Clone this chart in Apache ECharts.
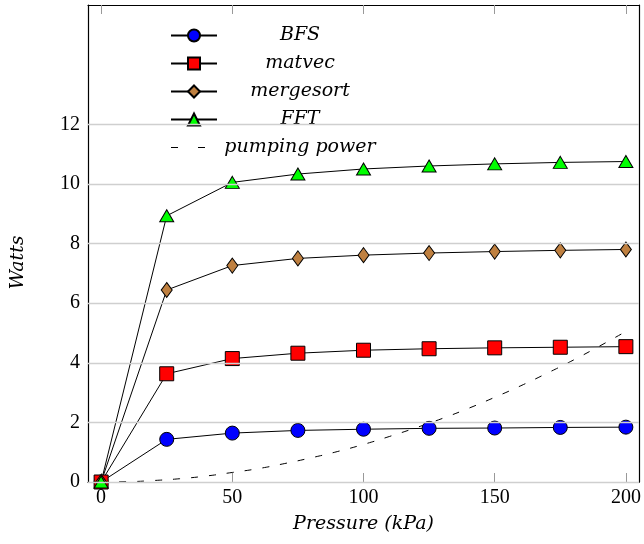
<!DOCTYPE html>
<html>
<head>
<meta charset="utf-8">
<script src="https://cdn.jsdelivr.net/npm/echarts@6/dist/echarts.min.js"></script>
<style>html,body{margin:0;padding:0;background:#fff}#c{width:644px;height:544px}</style>
</head>
<body>
<div id="c"></div>
<script>
const pressures = [0, 25, 50, 75, 100, 125, 150, 175, 200];
const bfs = [0, 1.43, 1.64, 1.73, 1.77, 1.80, 1.81, 1.83, 1.84];
const matvec = [0, 3.63, 4.14, 4.32, 4.42, 4.47, 4.50, 4.52, 4.54];
const mergesort = [0, 6.44, 7.26, 7.50, 7.61, 7.68, 7.73, 7.77, 7.80];
const fft = [0, 8.93, 10.05, 10.33, 10.50, 10.60, 10.67, 10.72, 10.75];
const pumpX = [0, 10, 20, 30, 40, 50, 60, 70, 80, 90, 100, 110, 120, 130, 140, 150, 160, 170, 180, 190, 200];
const pumpY = [0, 0.01, 0.05, 0.11, 0.20, 0.32, 0.45, 0.62, 0.81, 1.02, 1.26, 1.53, 1.82, 2.13, 2.47, 2.84, 3.23, 3.65, 4.09, 4.56, 5.05];
const xTicks = [0, 50, 100, 150, 200];
const yTicks = [0, 2, 4, 6, 8, 10, 12];

const FONT = 'Liberation Serif';
const IFONT = 'DejaVu Serif';
const pair = (xs, ys) => xs.map((x, i) => [x, ys[i]]);

const chart = echarts.init(document.getElementById('c'), null, {renderer: 'canvas'});
const tickStyle = {show: true, inside: true, length: 9, lineStyle: {color: '#999', width: 1}};
const axisLine = {show: true, onZero: false, lineStyle: {color: '#000', width: 1.2}};

function lineSeries(name, data, symbol, size, color) {
  return {
    name, type: 'line', data: pair(pressures, data),
    symbol, symbolSize: size,
    lineStyle: {color: '#000', width: 1},
    itemStyle: {color: color, borderColor: '#000', borderWidth: 1},
    emphasis: {disabled: true},
    animation: false
  };
}

const dashIcon = 'path://M0,0h0.01v0.01h-0.01z M46,15h0.01v0.01h-0.01z M0,6.9h7v1.2h-7z M27,6.9h7v1.2h-7z';

chart.setOption({
  animation: false,
  grid: {left: 88, right: 5, top: 5, bottom: 62},
  legend: {
    orient: 'vertical', left: 166, top: 24,
    backgroundColor: '#fff', padding: [2, 6, 2, 4],
    itemWidth: 46, itemHeight: 15, itemGap: 9,
    data: ['BFS', 'matvec', 'mergesort', 'FFT', {name: 'pumping power', icon: dashIcon}],
    formatter: n => '{a|' + n + '}',
    textStyle: {
      rich: {a: {width: 156, align: 'center', fontFamily: IFONT, fontStyle: 'italic', fontSize: 19, lineHeight: 20, color: '#000'}}
    }
  },
  xAxis: [{
    type: 'value', min: -5, max: 205,
    name: 'Pressure (kPa)', nameLocation: 'middle', nameGap: 33,
    nameTextStyle: {fontFamily: IFONT, fontStyle: 'italic', fontSize: 19, color: '#000'},
    axisLine,
    axisTick: Object.assign({customValues: xTicks}, tickStyle),
    axisLabel: {customValues: xTicks, fontFamily: FONT, fontSize: 20, color: '#000', margin: 6},
    splitLine: {show: false}
  }, {
    type: 'value', min: -5, max: 205, position: 'top',
    axisLine,
    axisTick: Object.assign({customValues: xTicks}, tickStyle),
    axisLabel: {show: false}, splitLine: {show: false}
  }],
  yAxis: [{
    type: 'value', min: 0, max: 16,
    name: 'Watts', nameLocation: 'middle', nameGap: 60, nameRotate: 90,
    nameTextStyle: {fontFamily: IFONT, fontStyle: 'italic', fontSize: 19, color: '#000', padding: [0, 0, 0, -38]},
    axisLine,
    axisTick: Object.assign({customValues: yTicks}, tickStyle),
    axisLabel: {customValues: yTicks, fontFamily: FONT, fontSize: 20, color: '#000', margin: 8},
    splitLine: {show: false}
  }, {
    type: 'value', min: 0, max: 16, position: 'right',
    axisLine,
    axisTick: Object.assign({customValues: yTicks}, tickStyle),
    axisLabel: {show: false}, splitLine: {show: false}
  }],
  series: [
    {
      name: '__grid', type: 'line', data: [], silent: true,
      markLine: {
        silent: true, symbol: 'none', animation: false,
        label: {show: false},
        lineStyle: {color: '#cfcfcf', type: 'solid', width: 1.3},
        data: yTicks.map(v => ({yAxis: v}))
      }
    },
    {
      name: 'pumping power', type: 'line', data: pair(pumpX, pumpY),
      smooth: true, symbol: 'none',
      lineStyle: {color: '#000', width: 1, type: [7, 11]},
      itemStyle: {color: '#000'},
      emphasis: {disabled: true}
    },
    lineSeries('BFS', bfs, 'circle', 14, '#0000ff'),
    lineSeries('matvec', matvec, 'rect', 14, '#ff0000'),
    lineSeries('mergesort', mergesort, 'diamond', [11, 15], '#bf8040'),
    lineSeries('FFT', fft, 'triangle', [14, 12], '#00ff00')
  ]
});
</script>
</body>
</html>
